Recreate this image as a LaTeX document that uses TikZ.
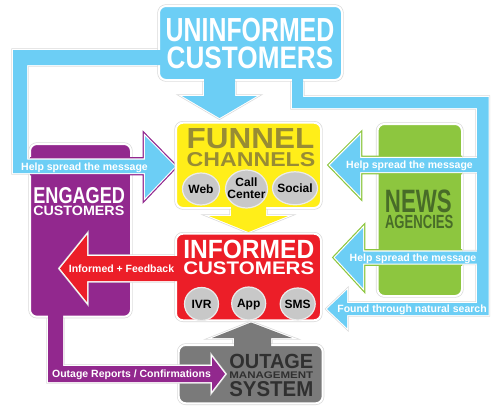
\documentclass[tikz,border=0pt]{standalone}
\usepackage{fontspec}
\setmainfont{Liberation Sans}
\usepackage{graphicx}
\usetikzlibrary{positioning}
\definecolor{skyblue}{RGB}{108,206,245}
\definecolor{funnelyellow}{RGB}{255,238,25}
\definecolor{olivetext}{RGB}{152,140,52}
\definecolor{alertred}{RGB}{236,30,40}
\definecolor{engagedpurple}{RGB}{146,40,142}
\definecolor{newsgreen}{RGB}{141,198,63}
\definecolor{newstext}{RGB}{72,108,40}
\definecolor{omsgrey}{RGB}{122,122,122}
\definecolor{omstext}{RGB}{48,48,48}
\definecolor{bubblegrey}{RGB}{200,200,200}

% squeeze a title word into a given width and cap height
\newcommand{\fitword}[3]{\resizebox{#1pt}{#2pt}{#3}}

% block arrows (pixel grid, y pointing down)
\newcommand{\pathDown}{(204,74) -- (204,96) -- (182,96) -- (219.5,118) -- (257,96) -- (235,96) -- (235,74) -- cycle}
\newcommand{\pathLeftLoop}{(166,50) -- (13,50) -- (13,173) -- (145,173) -- (145,198) -- (175,166.5) -- (145,136) -- (145,159.5) -- (27,159.5) -- (27,65) -- (166,65) -- cycle}
\newcommand{\pathRightLoop}{(292,74) -- (292,108) -- (477,108) -- (477,303) -- (347,303) -- (347,290) -- (327,309) -- (347,328) -- (347,315) -- (488.5,315) -- (488.5,97) -- (303,97) -- (303,74) -- cycle}
\newcommand{\pathSpreadFunnel}{(483,158) -- (360,158) -- (360,135) -- (330,165) -- (360,196) -- (360,172) -- (483,172) -- cycle}
\newcommand{\pathSpreadInformed}{(483,251.5) -- (363,251.5) -- (363,228) -- (335,257.5) -- (363,288) -- (363,263.5) -- (483,263.5) -- cycle}
\newcommand{\pathFunnelDown}{(231,200) -- (231,216) -- (209,216) -- (248.5,232) -- (288,216) -- (266,216) -- (266,200) -- cycle}
\newcommand{\pathFeedback}{(185,256) -- (87,256) -- (87,235) -- (60,268.5) -- (87,302) -- (87,281) -- (185,281) -- cycle}
\newcommand{\pathOmsUp}{(234,352) -- (234,338) -- (212,338) -- (251,322.5) -- (292,338) -- (271,338) -- (271,352) -- cycle}
\newcommand{\pathReports}{(48,305) -- (48,382) -- (212,382) -- (212,391) -- (225,374) -- (212,357) -- (212,366) -- (63,366) -- (63,305) -- cycle}

\begin{document}
\begin{tikzpicture}[
    x=1pt, y=-1pt,
    rim/.style={preaction={draw=black!15, line width=3.4pt}, draw=white, line width=2pt},
    box/.style={rim, rounded corners=7pt},
    headline/.style={line width=4.6pt, postaction={draw=white, line width=2.2pt}},
    title/.style={anchor=base, inner sep=0pt, font=\bfseries},
    tag/.style={anchor=base, inner sep=0pt, text=white, font=\bfseries\fontsize{10.5}{12}\selectfont},
    bubble/.style={fill=bubblegrey, draw=black!8, line width=1.2pt},
    bubbletext/.style={anchor=base, inner sep=0pt, font=\bfseries\fontsize{12}{12}\selectfont}
]
\useasboundingbox (0,0) rectangle (500,415);

% outage management system
\fill[omsgrey, rim] \pathOmsUp;
\fill[omsgrey, box] (178.7,345) rectangle (322.7,403.3);
\fill[omsgrey] \pathOmsUp;

% engaged customers
\fill[engagedpurple, rim] \pathReports;
\fill[engagedpurple, box] (30,144) rectangle (131,316.7);
\fill[engagedpurple] \pathReports;

% news agencies
\fill[newsgreen, box] (377.5,124) rectangle (462,296);

% uninformed customers and the blue loops
\fill[skyblue, rim] \pathLeftLoop;
\fill[skyblue, rim] \pathRightLoop;
\fill[skyblue, rim] \pathSpreadFunnel;
\fill[skyblue, rim] \pathSpreadInformed;
\fill[skyblue, rim] \pathDown;
\fill[skyblue, box] (159,6) rectangle (342,80);
\draw[engagedpurple, headline] (30,159.5) -- (145,159.5) -- (145,136) -- (175,166.5) -- (145,198) -- (145,173) -- (30,173);
\draw[newsgreen, headline] (462,158) -- (360,158) -- (360,135) -- (330,165) -- (360,196) -- (360,172) -- (462,172);
\draw[newsgreen, headline] (462,251.5) -- (363,251.5) -- (363,228) -- (335,257.5) -- (363,288) -- (363,263.5) -- (462,263.5);
\fill[skyblue] \pathLeftLoop \pathRightLoop \pathSpreadFunnel \pathSpreadInformed \pathDown;

% funnel channels
\fill[funnelyellow, rim] \pathFunnelDown;
\fill[funnelyellow, box] (176,122.7) rectangle (321,208);
\fill[funnelyellow] \pathFunnelDown;

% informed customers
\fill[alertred, rim] \pathFeedback;
\fill[alertred, box] (176,233.7) rectangle (321,320.3);
\fill[alertred] \pathFeedback;

% channel bubbles
\path[bubble] (201,189) ellipse [x radius=18.5pt, y radius=16pt];
\path[bubble] (246.5,189) ellipse [x radius=21pt, y radius=19pt];
\path[bubble] (295,188.3) ellipse [x radius=22.5pt, y radius=16.5pt];
\path[bubble] (201.5,304) ellipse [x radius=17pt, y radius=16.5pt];
\path[bubble] (248.7,303.5) ellipse [x radius=17pt, y radius=16.5pt];
\path[bubble] (297.7,304) ellipse [x radius=17.5pt, y radius=16pt];

% titles
\node[title, text=white] (uninformedA) at (250,41.7) {\fitword{168.6}{23.3}{UNINFORMED}};
\node[title, text=white] (uninformedB) at (250,68.3) {\fitword{166.6}{21.7}{CUSTOMERS}};
\node[title, text=olivetext] (funnelA) at (250.5,148.3) {\fitword{127.6}{20}{FUNNEL}};
\node[title, text=olivetext] (funnelB) at (251,166.7) {\fitword{128.6}{14}{CHANNELS}};
\node[title, text=white] (informedA) at (248.8,258.7) {\fitword{131}{18.4}{INFORMED}};
\node[title, text=white] (informedB) at (248.8,274.7) {\fitword{131}{12.7}{CUSTOMERS}};
\node[title, text=omstext] (omsA) at (271.3,368.3) {\fitword{84}{14.3}{OUTAGE}};
\node[title, text=omstext] (omsB) at (271.3,378.3) {\fitword{84}{6.7}{MANAGEMENT}};
\node[title, text=omstext] (omsC) at (271.3,396.7) {\fitword{84}{15}{SYSTEM}};
\node[title, text=white] (engagedA) at (79.2,203.3) {\fitword{91.7}{16}{ENGAGED}};
\node[title, text=white] (engagedB) at (78.8,215) {\fitword{91}{9.5}{CUSTOMERS}};
\node[title, text=newstext] (newsA) at (418.3,212.3) {\fitword{66.7}{22.6}{NEWS}};
\node[title, text=newstext] (newsB) at (419.2,228) {\fitword{68.3}{13.3}{AGENCIES}};

% bubble labels
\node[bubbletext] (web) at (201,193.3) {Web};
\node[bubbletext] (callA) at (246.5,186.7) {Call};
\node[bubbletext] (callB) at (246.5,198) {Center};
\node[bubbletext] (social) at (295,192.6) {Social};
\node[bubbletext] (ivr) at (201.5,308.3) {IVR};
\node[bubbletext] (app) at (248.7,307.8) {App};
\node[bubbletext] (sms) at (297.7,308.3) {SMS};

% arrow labels
\node[tag] (spreadLeft) at (84.5,170.3) {Help spread the message};
\node[tag] (spreadFunnel) at (409.5,168.8) {Help spread the message};
\node[tag] (spreadInformed) at (413,261.3) {Help spread the message};
\node[tag] (search) at (412,312.8) {Found through natural search};
\node[tag] (feedback) at (121.5,272.3) {Informed + Feedback};
\node[tag] (reports) at (131.5,377.8) {Outage Reports / Confirmations};
\end{tikzpicture}
\end{document}
